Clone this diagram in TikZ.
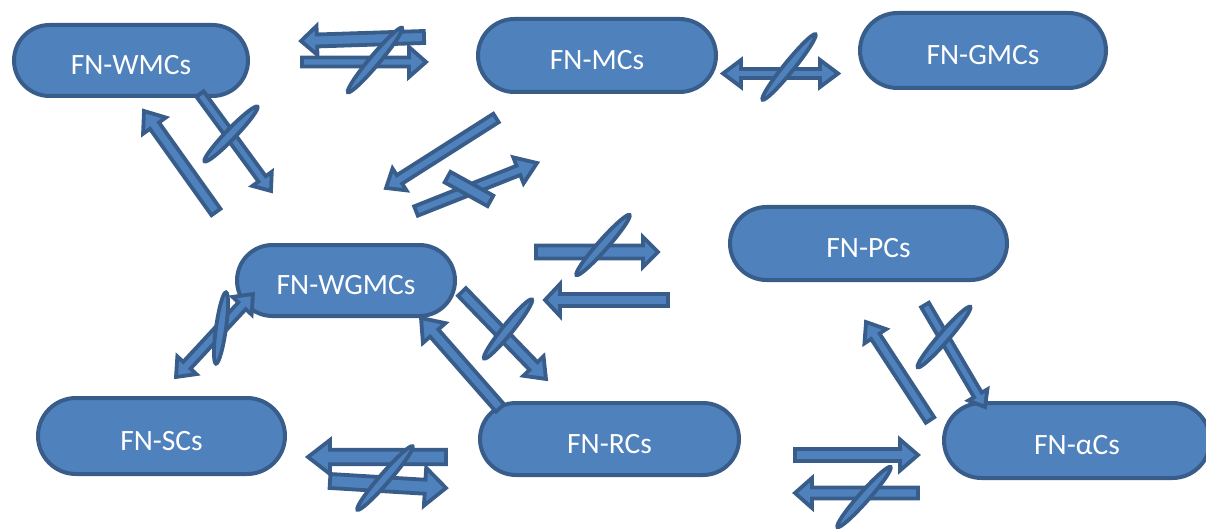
\documentclass[tikz,border=0pt]{standalone}
\usepackage{fontspec}
\setmainfont{Carlito}
\usetikzlibrary{shapes.misc}
\definecolor{boxfill}{HTML}{4F81BD}
\definecolor{boxline}{HTML}{385D8A}
\tikzset{
 fnbox/.style={rounded rectangle, draw=boxline, fill=boxfill, line width=4pt, text=white,
   font=\fontsize{29.5}{33}\selectfont, inner sep=0pt, text height=28pt, text depth=0pt},
 arr/.style={draw=boxline, fill=boxfill, line width=3.8pt, line join=miter},
}
% tail x,y ; tip x,y ; half shaft ; half head ; head length
\newcommand{\fnarrow}[7]{%
 \pgfmathsetmacro\faang{atan2(-(#4-#2),#3-#1)}%
 \pgfmathsetmacro\falen{veclen(#3-#1,#4-#2)}%
 \begin{scope}[shift={(#1,#2)},rotate=\faang]
  \draw[arr] (0,#5) -- ({\falen-#7},#5) -- ({\falen-#7},#6) -- (\falen,0) -- ({\falen-#7},-#6) -- ({\falen-#7},-#5) -- (0,-#5) -- cycle;
 \end{scope}}
\newcommand{\fndarrow}[7]{%
 \pgfmathsetmacro\faang{atan2(-(#4-#2),#3-#1)}%
 \pgfmathsetmacro\falen{veclen(#3-#1,#4-#2)}%
 \begin{scope}[shift={(#1,#2)},rotate=\faang]
  \draw[arr] (0,0) -- (#7,#6) -- (#7,#5) -- ({\falen-#7},#5) -- ({\falen-#7},#6) -- (\falen,0) -- ({\falen-#7},-#6) -- ({\falen-#7},-#5) -- (#7,-#5) -- (#7,-#6) -- cycle;
 \end{scope}}
\newcommand{\fnslash}[4]{\draw[arr] (#1,#2) ellipse [x radius=#3pt, y radius=5pt, rotate=#4];}
\begin{document}
\begin{tikzpicture}[x=1pt,y=-1pt]
\useasboundingbox (0,0) rectangle (1206,529);
% nodes
\node[fnbox, minimum width=234pt, minimum height=71pt] (wmc) at (131,60.5) {FN-WMCs};
\node[fnbox, minimum width=238pt, minimum height=73pt] (mc) at (597,55.5) {FN-MCs};
\node[fnbox, minimum width=246pt, minimum height=75pt] (gmc) at (983,50.5) {FN-GMCs};
\node[fnbox, minimum width=277pt, minimum height=73pt] (pc) at (868.5,243.5) {FN-PCs};
\node[fnbox, minimum width=218pt, minimum height=71pt] (wgmc) at (346,280.5) {FN-WGMCs};
\node[fnbox, minimum width=247pt, minimum height=76pt] (sc) at (161.5,436) {FN-SCs};
\node[fnbox, minimum width=259pt, minimum height=72pt] (rc) at (609.5,439) {FN-RCs};
\node[fnbox, minimum width=266pt, minimum height=75pt] (ac) at (1077,440.5) {FN-αCs};
% WMCs - MCs
\fnarrow{424}{37}{301}{41}{6}{14.5}{16}
\fnarrow{302}{62}{426}{62}{4.5}{15}{17}
\fnslash{375}{60}{42}{50}
% MCs - GMCs
\fndarrow{723}{73.5}{838}{73.5}{4.5}{13.5}{18}
\fnslash{789}{67}{42}{51}
% WMCs - WGMCs
\fnarrow{200}{94}{271}{191}{4.5}{12}{15}
\fnslash{231}{134}{38}{46}
\fnarrow{216}{212}{144}{111}{5.5}{14}{18}
% MCs - WGMCs
\fnarrow{496}{118}{386}{188}{5}{13}{16}
\fnarrow{416}{211}{537}{163}{5}{14}{20}
\node[arr, rectangle, minimum width=49pt, minimum height=12pt, rotate=-29] (bar) at (469,189) {};
% WGMCs - PCs
\fnarrow{536}{252}{658}{252}{6.5}{15}{15}
\fnslash{603}{245}{40}{48.5}
\fnarrow{668}{300}{545}{300}{6}{16}{15}
% WGMCs - RCs
\fnarrow{462}{292}{546}{379}{5.5}{14}{18}
\fnslash{508}{329}{38}{51}
\fnarrow{500}{408}{421}{318}{5.5}{15}{20}
% WGMCs - SCs
\fndarrow{176}{377}{253}{294}{5}{13}{16}
\fnslash{221}{328}{36}{82}
% SCs - RCs
\fnarrow{446}{457}{308}{457}{7.3}{17}{22}
\fnarrow{330}{481}{446}{488}{7}{19}{21}
\fnslash{385}{478}{42}{49}
% RCs - aCs
\fnarrow{795}{455}{918}{455}{6}{15.5}{18}
\fnarrow{918}{493}{795}{493}{5.5}{15}{17}
\fnslash{864}{497}{40}{48.5}
% PCs - aCs
\fnarrow{930}{420}{866}{322}{5}{13}{17}
\fnarrow{925}{305}{985}{407}{4.5}{11}{14}
\fnslash{944}{337}{40}{49}
\end{tikzpicture}
\end{document}
